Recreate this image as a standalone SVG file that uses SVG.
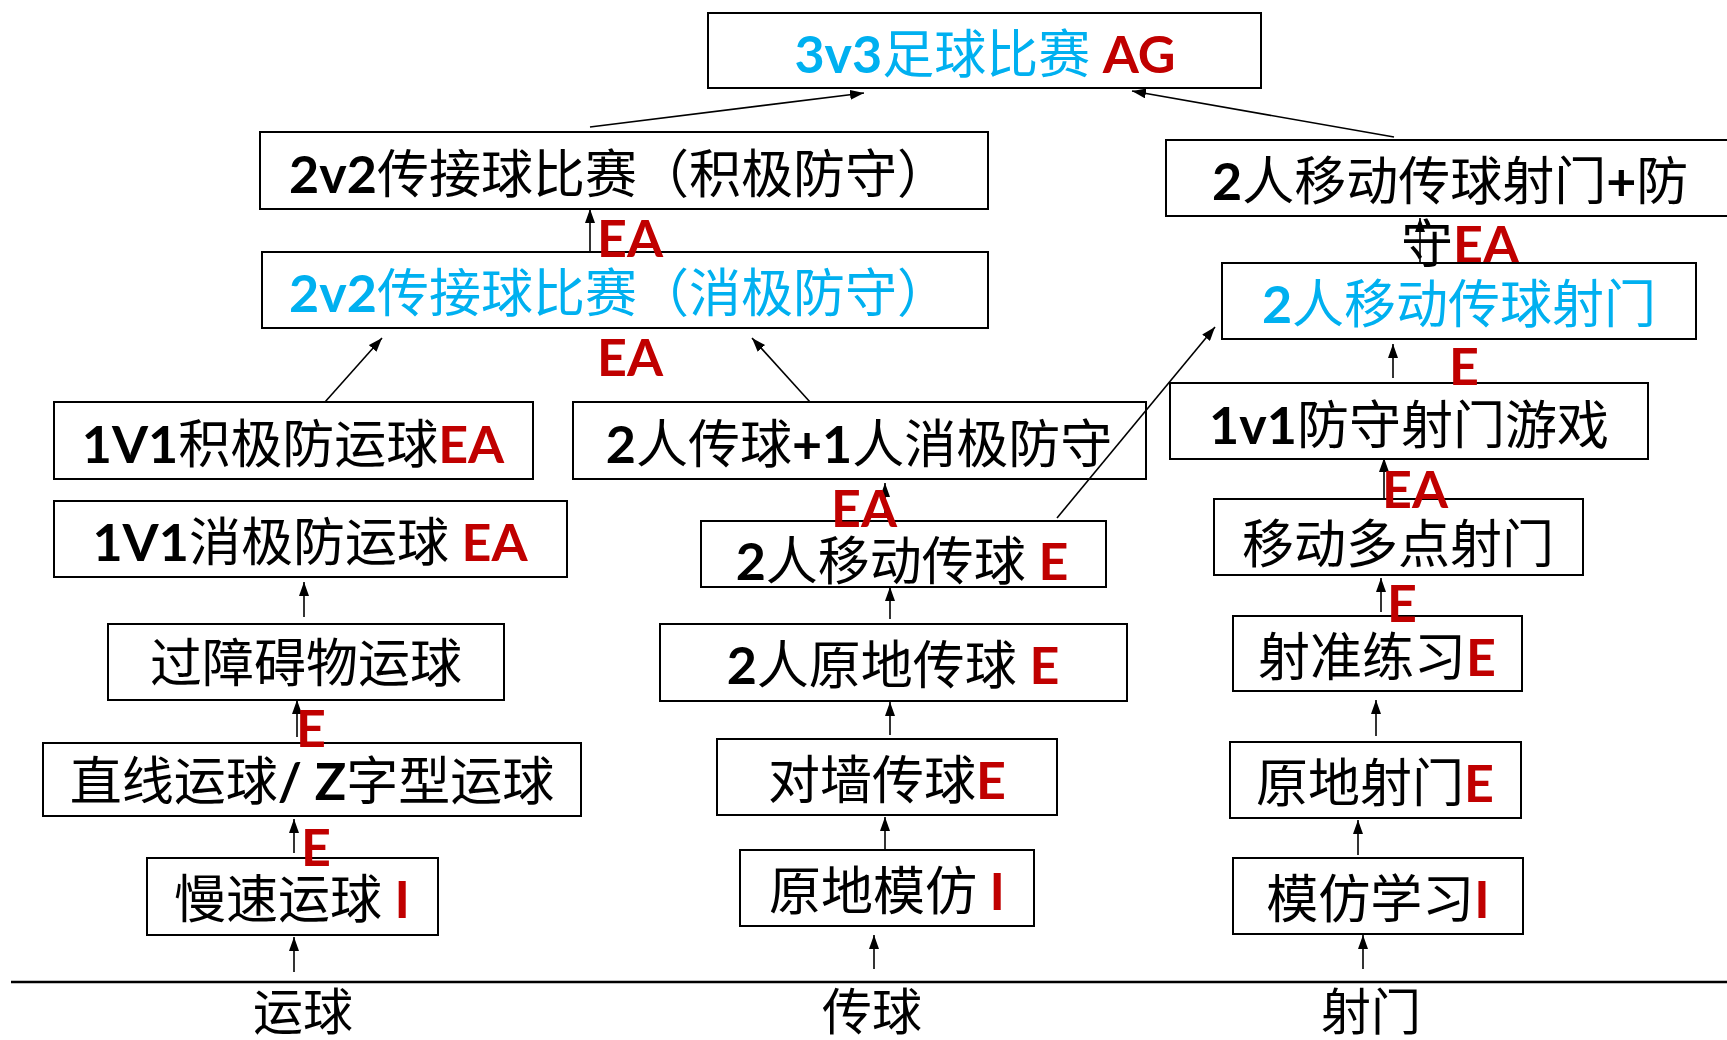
<svg xmlns="http://www.w3.org/2000/svg" width="1727" height="1040" viewBox="0 0 1727 1040">
<defs>
<marker id="ah" markerUnits="userSpaceOnUse" markerWidth="14" markerHeight="10" refX="14" refY="5" orient="auto">
<path d="M0,0 L14,5 L0,10 z" fill="#000"/>
</marker>
<style>
.box{fill:none;stroke:#000;stroke-width:2}
.t{font-family:"Lato","Noto Sans CJK SC",sans-serif;font-size:52px;fill:#000;text-anchor:middle}
.s{text-anchor:start}
.b{font-weight:bold}
.blue{fill:#00B0F0}
.red{fill:#C00000;font-weight:bold}
.lbl{font-family:"Lato","Noto Sans CJK SC",sans-serif;font-size:50px;fill:#000;text-anchor:middle}
.c line{stroke:#000;stroke-width:1.6;marker-end:url(#ah)}
</style>
</defs>
<rect width="1727" height="1040" fill="#fff"/>

<g id="connectors" class="c">
<line x1="590" y1="127" x2="864" y2="93"/>
<line x1="1394" y1="137" x2="1132" y2="91"/>
<line x1="590" y1="252" x2="590" y2="209"/>
<line x1="1420" y1="263" x2="1420" y2="218"/>
<line x1="325" y1="402" x2="382" y2="338"/>
<line x1="810" y1="402" x2="752" y2="338"/>
<line x1="1057" y1="518" x2="1215" y2="327"/>
<line x1="1393" y1="378" x2="1393" y2="344"/>
<line x1="885" y1="518" x2="885" y2="483"/>
<line x1="1384" y1="500" x2="1384" y2="458"/>
<line x1="304" y1="617" x2="304" y2="582"/>
<line x1="890" y1="619" x2="890" y2="587"/>
<line x1="1381" y1="612" x2="1381" y2="578"/>
<line x1="297" y1="737" x2="297" y2="700"/>
<line x1="890" y1="735" x2="890" y2="702"/>
<line x1="1376" y1="736" x2="1376" y2="700"/>
<line x1="294" y1="853" x2="294" y2="819"/>
<line x1="885" y1="850" x2="885" y2="817"/>
<line x1="1358" y1="855" x2="1358" y2="820"/>
<line x1="294" y1="972" x2="294" y2="937"/>
<line x1="874" y1="969" x2="874" y2="935"/>
<line x1="1363" y1="969" x2="1363" y2="935"/>
</g>
<line x1="11" y1="982" x2="1727" y2="982" stroke="#000" stroke-width="2.5"/>

<g id="n-3v3">
<rect class="box" x="708" y="13" width="553" height="75"/>
<text class="t" x="985" y="73"><tspan class="b blue">3v3</tspan><tspan class="blue">足球比赛</tspan><tspan class="red"> AG</tspan></text>
</g>
<g id="n-2v2-active">
<rect class="box" x="260" y="132" width="728" height="77"/>
<text class="t" x="619" y="193"><tspan class="b">2v2</tspan>传接球比赛（积极防守）</text>
</g>
<g id="n-2v2-passive">
<rect class="box" x="262" y="252" width="726" height="76"/>
<text class="t blue" x="619" y="312"><tspan class="b">2v2</tspan>传接球比赛（消极防守）</text>
</g>
<g id="n-2move-shoot-def">
<rect class="box" x="1166" y="140" width="580" height="76"/>
<text class="t s" x="1212" y="200"><tspan class="b">2</tspan>人移动传球射门<tspan class="b">+</tspan>防</text>
<text class="t s" x="1401" y="263">守<tspan class="red">EA</tspan></text>
</g>
<g id="n-2move-shoot">
<rect class="box" x="1222" y="263" width="474" height="76"/>
<text class="t blue" x="1459" y="323"><tspan class="b">2</tspan>人移动传球射门</text>
</g>

<g id="n-1v1-active">
<rect class="box" x="54" y="402" width="479" height="77"/>
<text class="t" x="293" y="463"><tspan class="b">1V1</tspan>积极防运球<tspan class="red">EA</tspan></text>
</g>
<g id="n-2pass-1def">
<rect class="box" x="573" y="402" width="573" height="77"/>
<text class="t" x="859" y="463"><tspan class="b">2</tspan>人传球<tspan class="b">+1</tspan>人消极防守</text>
</g>
<g id="n-1v1-shoot">
<rect class="box" x="1170" y="383" width="478" height="76"/>
<text class="t" x="1409" y="444"><tspan class="b">1v1</tspan>防守射门游戏</text>
</g>

<g id="n-1v1-passive">
<rect class="box" x="54" y="501" width="513" height="76"/>
<text class="t" x="310" y="561"><tspan class="b">1V1</tspan>消极防运球<tspan class="red"> EA</tspan></text>
</g>
<g id="n-2move-pass">
<rect class="box" x="701" y="521" width="405" height="66"/>
<text class="t" x="902" y="580"><tspan class="b">2</tspan>人移动传球<tspan class="red"> E</tspan></text>
</g>
<g id="n-move-multi">
<rect class="box" x="1214" y="499" width="369" height="76"/>
<text class="t" x="1398" y="563">移动多点射门</text>
</g>

<g id="n-obstacle">
<rect class="box" x="108" y="624" width="396" height="76"/>
<text class="t" x="306" y="682">过障碍物运球</text>
</g>
<g id="n-2static-pass">
<rect class="box" x="660" y="624" width="467" height="77"/>
<text class="t" x="893" y="684"><tspan class="b">2</tspan>人原地传球<tspan class="red"> E</tspan></text>
</g>
<g id="n-aim">
<rect class="box" x="1233" y="616" width="289" height="75"/>
<text class="t" x="1377" y="676">射准练习<tspan class="red">E</tspan></text>
</g>

<g id="n-line-dribble">
<rect class="box" x="43" y="743" width="538" height="73"/>
<text class="t" x="312" y="800">直线运球<tspan class="b">/ Z</tspan>字型运球</text>
</g>
<g id="n-wall-pass">
<rect class="box" x="717" y="739" width="340" height="76"/>
<text class="t" x="887" y="799">对墙传球<tspan class="red">E</tspan></text>
</g>
<g id="n-static-shoot">
<rect class="box" x="1230" y="742" width="291" height="76"/>
<text class="t" x="1375" y="802">原地射门<tspan class="red">E</tspan></text>
</g>

<g id="n-slow-dribble">
<rect class="box" x="147" y="858" width="291" height="77"/>
<text class="t" x="292" y="918">慢速运球<tspan class="red"> I</tspan></text>
</g>
<g id="n-static-imitate">
<rect class="box" x="740" y="850" width="294" height="76"/>
<text class="t" x="887" y="910">原地模仿<tspan class="red"> I</tspan></text>
</g>
<g id="n-imitate-learn">
<rect class="box" x="1233" y="858" width="290" height="76"/>
<text class="t" x="1378" y="918">模仿学习<tspan class="red">I</tspan></text>
</g>

<g id="edge-labels">
<text class="t red s" x="597" y="257">EA</text>
<text class="t red s" x="597" y="376">EA</text>
<text class="t red s" x="1449" y="385">E</text>
<text class="t red s" x="831" y="527">EA</text>
<text class="t red s" x="1382" y="508">EA</text>
<text class="t red s" x="1387" y="622">E</text>
<text class="t red s" x="296" y="747">E</text>
<text class="t red s" x="301" y="866">E</text>
</g>

<g id="axis-labels">
<text class="lbl" x="303" y="1030">运球</text>
<text class="lbl" x="872" y="1030">传球</text>
<text class="lbl" x="1371" y="1030">射门</text>
</g>
</svg>
